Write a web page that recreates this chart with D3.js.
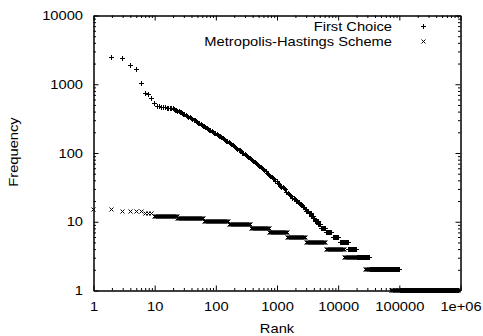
<!DOCTYPE html>
<html><head><meta charset="utf-8">
<script src="https://cdn.jsdelivr.net/npm/d3@7"></script>
<style>
body{margin:0;background:#fff}
text{font-family:"Liberation Sans",Arial,Helvetica,sans-serif;font-size:13px;fill:#000}
</style>
</head><body>
<svg id="c" width="483" height="336"></svg>
<script>
// ---- data ----
const xTickValues = [1, 10, 100, 1000, 10000, 100000, 1000000];
const xTickLabels = ["1", "10", "100", "1000", "10000", "100000", "1e+06"];
const yTickValues = [1, 10, 100, 1000, 10000];
const yTickLabels = ["1", "10", "100", "1000", "10000"];
const seriesNames = ["First Choice", "Metropolis-Hastings Scheme"];
const xTitle = "Rank";
const yTitle = "Frequency";

// First Choice: individual (rank, frequency) points
const fcRanks = [2,3,4,5,6,7,8,9,10,11,12,13,14,15,16,17,18,19,20,21,22,23,24,25,26,27,28,29,30,31,
  33,35,36,38,40,42,44,46,48,50,52,55,58,60,63,66,69,72,76,79,83,87,91,95,
  100,105,110,115,120,126,132,138,145,151,158,166,174,182,191,200,209,219,229,240,251,263,275,288,302,
  316,331,347,363,380,398,417,437,457,479,501,525,550,575,603,631,661,692,724,759,794,832,871,912,955,
  1000,1047,1096,1148,1202,1259,1318,1380,1445,1514,1585,1660,1738,1820,1905,1995,2089];
const fcFreq  = [2430,2400,1850,1620,1010,740,705,620,520,480,470,462,457,454,451,448,445,443,440,431,422,414,406,399,392,385,379,372,366,361,
  348,340,332,324,316,308,301,293,286,279,272,265,258,252,245,239,233,228,222,216,211,206,200,195,
  191,185,180,175,171,166,161,157,153,149,145,140,136,132,128,124,121,117,114,110,107,104,100,97,94,
  91,88,86,83,80,78,75,72,70,68,65,63,61,59,57,55,53,51,49,47,46,44,42,41,39,
  38,36,35,33,32,31,30,29,27,26,25,24,23,22,22,21,20];
// First Choice: runs of equal frequency [frequency, first rank, last rank]
const fcRuns = [[20,2123,2239],[19,2239,2377],[18,2377,2541],[17,2541,2716],[16,2716,2917],[15,2917,3076],[14,3076,3342],[13,3342,3656],[12,3656,4018],[11,4018,4264],[10,4264,4775],[9,4775,5345],[8,5345,6448],[7,6448,8073],[6,8380,10500],[5,10900,14740],[4,14740,20640],[3,20640,33650],[2,33650,103800],[1,103800,950000]];

// Metropolis-Hastings: individual points
const mhRanks = [1,2,3,4,5,6,7,8,9];
const mhFreq  = [15,15,14,14,14,14,13,13,13];
// Metropolis-Hastings: runs [frequency, first rank, last rank]
const mhRuns = [[12,10,24],[11,24,66],[10,66,169],[9,169,380],[8,380,757],[7,757,1510],[6,1510,3000],[5,3000,6330],[4,6330,12800],[3,12800,28000],[2,28000,75000],[1,75000,950000]];

// ---- chart ----
const svg = d3.select("#c");
const L = 93.5, R = 460.5, T = 15.5, B = 290.5;
const x = d3.scaleLog().domain([1, 1e6]).range([L, R]);
const y = d3.scaleLog().domain([1, 1e4]).range([B, T]);
const SX = 1.13;

const minorOf = ticks => {
  const out = [];
  ticks.slice(0, -1).forEach(t => { for (let k = 2; k <= 9; k++) out.push(t * k); });
  return out;
};
const xMinor = minorOf(xTickValues), yMinor = minorOf(yTickValues);

function styleAxis(g) {
  g.selectAll("path.domain").attr("stroke", "#000").attr("stroke-width", 1);
  g.selectAll("line").attr("stroke", "#000").attr("stroke-width", 1);
  g.attr("font-size", null).attr("font-family", null);
}

// bottom
const gB = svg.append("g").attr("transform", `translate(0,${B})`)
  .call(d3.axisBottom(x).tickValues(xTickValues).tickFormat((d, i) => xTickLabels[i])
    .tickSizeInner(-5).tickSizeOuter(0).tickPadding(11));
styleAxis(gB);
gB.selectAll("text").attr("transform", `scale(${SX},1)`);
svg.append("g").attr("transform", `translate(0,${B})`)
  .call(d3.axisBottom(x).tickValues(xMinor).tickFormat("").tickSizeInner(-2.5).tickSizeOuter(0)).call(styleAxis);
// top
svg.append("g").attr("transform", `translate(0,${T})`)
  .call(d3.axisTop(x).tickValues(xTickValues).tickFormat("").tickSizeInner(-5).tickSizeOuter(0)).call(styleAxis);
svg.append("g").attr("transform", `translate(0,${T})`)
  .call(d3.axisTop(x).tickValues(xMinor).tickFormat("").tickSizeInner(-2.5).tickSizeOuter(0)).call(styleAxis);
// left
const gL = svg.append("g").attr("transform", `translate(${L},0)`)
  .call(d3.axisLeft(y).tickValues(yTickValues).tickFormat((d, i) => yTickLabels[i])
    .tickSizeInner(-5).tickSizeOuter(0).tickPadding(10.5));
styleAxis(gL);
gL.selectAll("text").each(function () {
  const t = d3.select(this); const x0 = +t.attr("x");
  t.attr("x", 0).attr("transform", `translate(${x0},0) scale(${SX},1)`);
});
svg.append("g").attr("transform", `translate(${L},0)`)
  .call(d3.axisLeft(y).tickValues(yMinor).tickFormat("").tickSizeInner(-2.5).tickSizeOuter(0)).call(styleAxis);
// right
svg.append("g").attr("transform", `translate(${R},0)`)
  .call(d3.axisRight(y).tickValues(yTickValues).tickFormat("").tickSizeInner(-5).tickSizeOuter(0)).call(styleAxis);
svg.append("g").attr("transform", `translate(${R},0)`)
  .call(d3.axisRight(y).tickValues(yMinor).tickFormat("").tickSizeInner(-2.5).tickSizeOuter(0)).call(styleAxis);

// titles
svg.append("text").attr("text-anchor", "middle")
  .attr("transform", `translate(277,333) scale(${SX},1)`).text(xTitle);
svg.append("text").attr("text-anchor", "middle")
  .attr("transform", `translate(18,152) rotate(-90) scale(${SX},1)`).text(yTitle);

// markers (centres snapped to pixel centres, like a raster terminal)
const snap = v => Math.round(v - 0.5) + 0.5;
const plus = (px, py) => { px = snap(px); py = snap(py);
  return `M${px - 2.5},${py}H${px + 2.5}M${px},${py - 2.5}V${py + 2.5}`; };
const cross = (px, py) => { px = snap(px); py = snap(py);
  return `M${px - 2},${py - 2}L${px + 2},${py + 2}M${px - 2},${py + 2}L${px + 2},${py - 2}`; };

function seriesPath(ranks, freqs, runs, mark) {
  let d = "";
  ranks.forEach((r, i) => { d += mark(x(r), y(freqs[i])); });
  runs.forEach(([v, a, b]) => {
    const x0 = x(a), x1 = x(b), py = y(v);
    for (let px = x0; px <= x1 + 0.001; px += 1) d += mark(px, py);
  });
  return d;
}

svg.append("path").attr("d", seriesPath(fcRanks, fcFreq, fcRuns, plus))
  .attr("fill", "none").attr("stroke", "#000").attr("stroke-width", 1);
svg.append("path").attr("d", seriesPath(mhRanks, mhFreq, mhRuns, cross))
  .attr("fill", "none").attr("stroke", "#000").attr("stroke-width", 1);

// legend
const legY = [26.5, 41];
const legMarks = [plus, cross];
seriesNames.forEach((name, i) => {
  svg.append("text").attr("text-anchor", "end")
    .attr("transform", `translate(392,${legY[i] + 4.6}) scale(${SX},1)`).text(name);
  svg.append("path").attr("d", legMarks[i](423, legY[i]))
    .attr("fill", "none").attr("stroke", "#000").attr("stroke-width", 1);
});
</script>
</body></html>
